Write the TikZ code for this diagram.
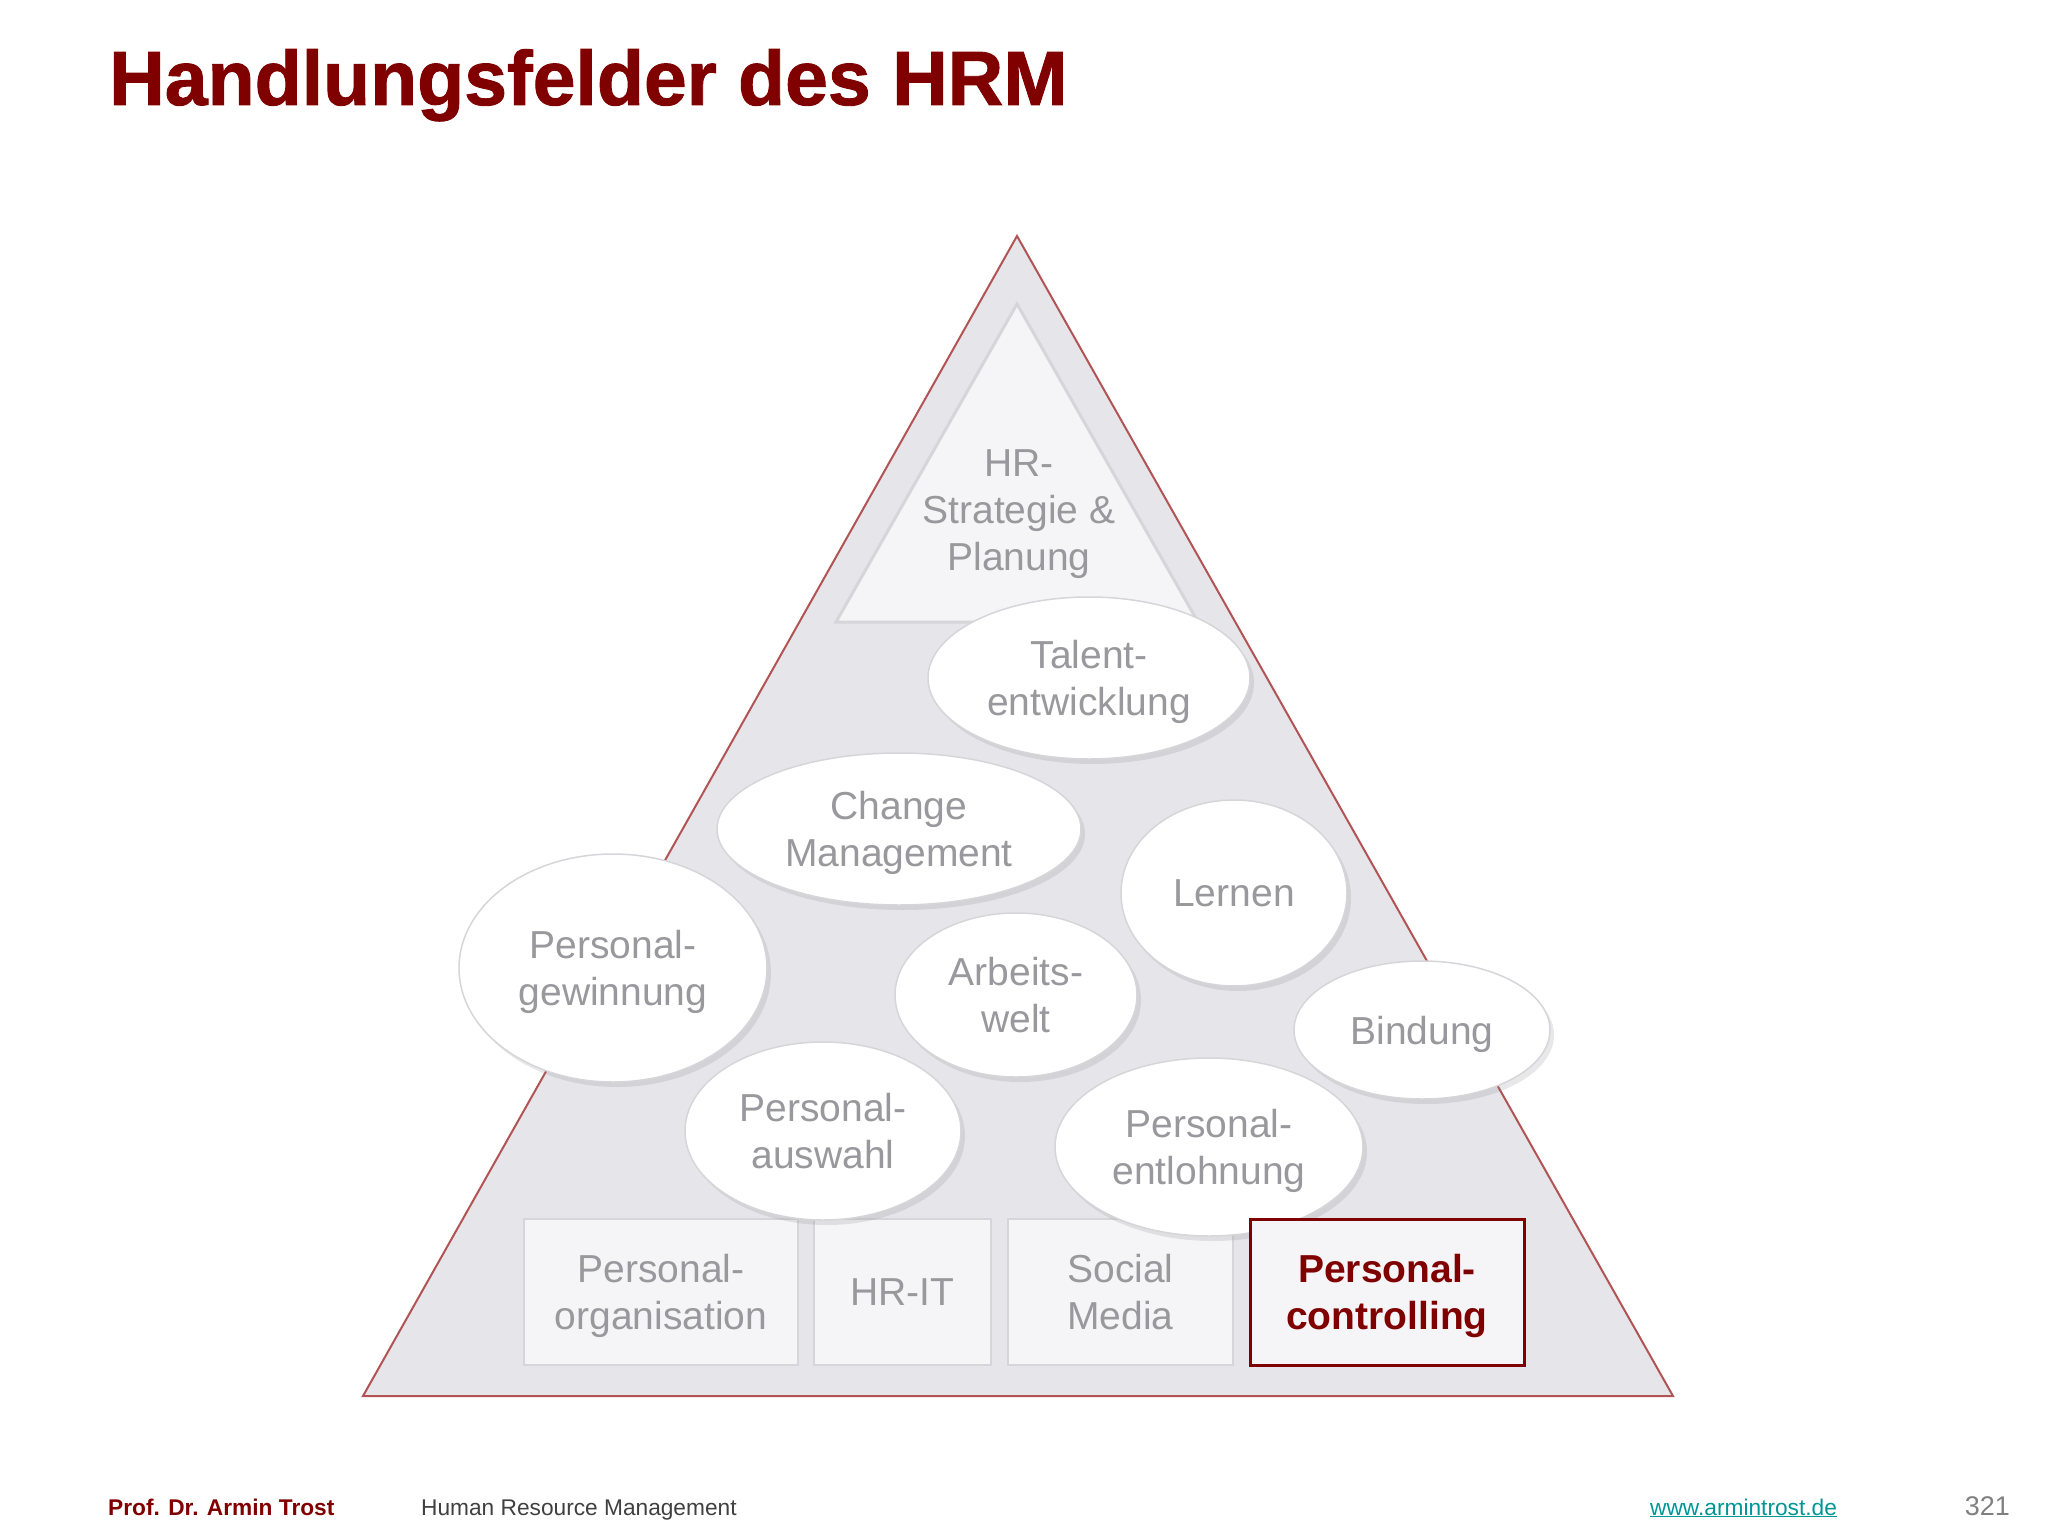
\documentclass[tikz,border=0pt]{standalone}
\usepackage{fontspec}
\setmainfont{Liberation Sans}
\newfontfamily\titelfont{Liberation Sans}[BoldFeatures={FakeBold=1.2}]
\usetikzlibrary{shapes.geometric,shadows}
\definecolor{hrmred}{RGB}{128,0,0}
\definecolor{pyrfill}{RGB}{230,229,233}
\definecolor{pyredge}{RGB}{178,84,86}
\definecolor{feldtext}{RGB}{152,152,157}
\definecolor{feldline}{RGB}{214,213,218}
\definecolor{blockfill}{RGB}{245,244,247}
\definecolor{linkteal}{RGB}{0,150,150}
\begin{document}
\begin{tikzpicture}[x=1pt, y=-1pt,
    feld/.style={ellipse, fill=white, draw=feldline, line width=1.5pt, inner sep=0pt,
        text=feldtext, align=center, text depth=0pt, font=\fontsize{39}{47}\selectfont,
        drop shadow={shadow xshift=4pt, shadow yshift=-5pt, opacity=0.18}},
    block/.style={rectangle, fill=blockfill, draw=feldline, line width=1.5pt, inner sep=0pt,
        minimum height=146pt, text=feldtext, align=center, text depth=0pt,
        font=\fontsize{39}{47}\selectfont},
    footer/.style={inner sep=0pt, anchor=base west, font=\fontsize{22.7}{26}\selectfont}]
    \useasboundingbox[fill=white] (0,0) rectangle (2048,1536);
    \node[inner sep=0pt, anchor=base west, text=hrmred, font=\titelfont\bfseries\fontsize{77}{90}\selectfont] (titel) at (109,105) {Handlungsfelder des HRM};
    \draw[fill=pyrfill, draw=pyredge, line width=2pt] (1017,236) -- (1673,1396) -- (363,1396) -- cycle;
    \draw[fill=blockfill, draw=feldline, line width=3pt] (1017,304) -- (1198,622) -- (836,622) -- cycle;
    \node[text=feldtext, align=center, text depth=0pt, font=\fontsize{39}{47}\selectfont] (strategie) at (1019,510) {HR-\\Strategie \&\\Planung};
    \node[block, minimum width=274pt] (organisation) at (661,1292) {Personal-\\organisation};
    \node[block, minimum width=177pt] (hrit) at (902.5,1292) {HR-IT};
    \node[block, minimum width=225pt] (social) at (1120.5,1292) {Social\\Media};
    \node[feld, minimum width=322pt, minimum height=162pt] (talent) at (1089,678) {Talent-\\entwicklung};
    \node[feld, minimum width=364pt, minimum height=152pt] (change) at (899,829) {Change\\Management};
    \node[feld, minimum width=226pt, minimum height=186pt] (lernen) at (1234,893) {Lernen};
    \node[feld, minimum width=308pt, minimum height=228pt] (gewinnung) at (613,968) {Personal-\\gewinnung};
    \node[feld, minimum width=242pt, minimum height=164pt] (arbeitswelt) at (1016,995) {Arbeits-\\welt};
    \node[feld, minimum width=256pt, minimum height=138pt] (bindung) at (1422,1030) {Bindung};
    \node[feld, minimum width=276pt, minimum height=178pt] (auswahl) at (823,1131) {Personal-\\auswahl};
    \node[feld, minimum width=308pt, minimum height=178pt] (entlohnung) at (1209,1147) {Personal-\\entlohnung};
    \node[block, minimum width=274pt, draw=hrmred, line width=3pt, text=hrmred,
        font=\bfseries\fontsize{39}{47}\selectfont] (controlling) at (1387,1292) {Personal-\\controlling};
    \node[footer, text=hrmred, font=\bfseries\fontsize{22.7}{26}\selectfont] (autor) at (108,1515) {Prof. Dr. Armin Trost};
    \node[footer, text=black!75] (kurs) at (421,1515) {Human Resource Management};
    \node[footer, text=linkteal] (web) at (1650,1515) {\underline{www.armintrost.de}};
    \node[footer, anchor=base east, text=black!50, font=\fontsize{27}{30}\selectfont] (seite) at (2010,1515) {321};
\end{tikzpicture}
\end{document}
